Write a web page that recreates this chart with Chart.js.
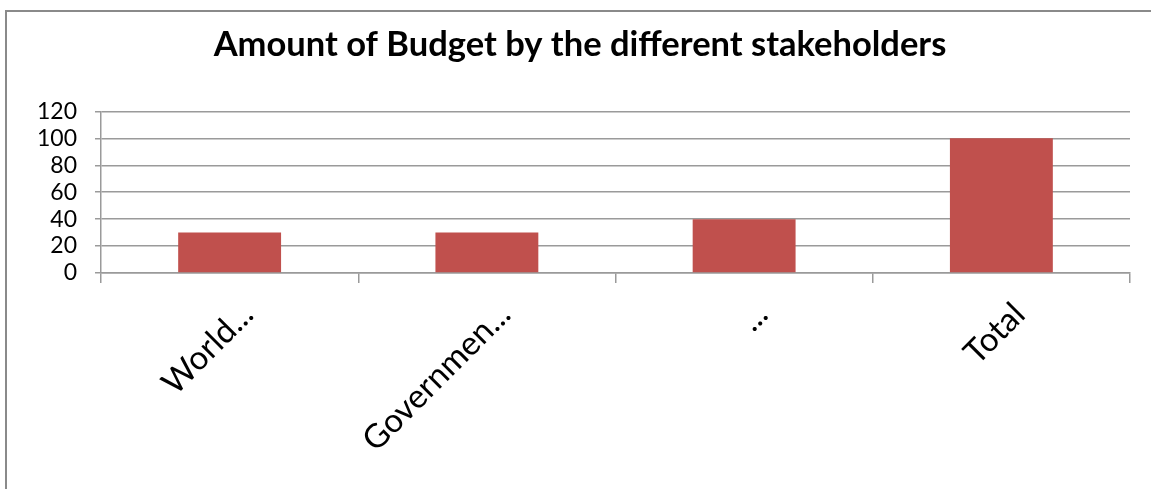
<!DOCTYPE html>
<html>
<head>
<meta charset="utf-8">
<title>Amount of Budget by the different stakeholders</title>
<script src="https://cdn.jsdelivr.net/npm/chart.js@4.4.1/dist/chart.umd.min.js"></script>
<style>
    html, body {
        margin: 0;
        padding: 0;
        background: #ffffff;
        overflow: hidden;
    }
    #frame {
        position: absolute;
        left: 5px;
        top: 10px;
        width: 1200px;
        height: 520px;
        border-left: 2px solid #8a8a8a;
        border-top: 2px solid #8a8a8a;
    }
    #chart-wrap {
        position: absolute;
        left: 0;
        top: 0;
        width: 1151px;
        height: 489px;
    }
</style>
</head>
<body>
<div id="frame"></div>
<div id="chart-wrap"><canvas id="budget-chart"></canvas></div>
<script>
    var categories = ["World...", "Governmen...", "...", "Total"];
    var budgetValues = [30, 30, 40, 100];
    var yMin = 0;
    var yMax = 120;
    var yStep = 20;

    var gridColor = "#9a9a9a";
    var barColor = "#c0504d";

    new Chart(document.getElementById("budget-chart").getContext("2d"), {
        type: "bar",
        data: {
            labels: categories,
            datasets: [{
                data: budgetValues,
                backgroundColor: barColor,
                borderWidth: 0,
                barPercentage: 0.4,
                categoryPercentage: 1
            }]
        },
        options: {
            responsive: true,
            maintainAspectRatio: false,
            animation: false,
            events: [],
            layout: {
                padding: { left: 30, right: 21, top: 0, bottom: 0 }
            },
            plugins: {
                legend: { display: false },
                tooltip: { enabled: false },
                title: {
                    display: true,
                    text: "Amount of Budget by the different stakeholders",
                    color: "#000000",
                    font: { family: "Lato", size: 34.5, weight: "bold" },
                    padding: { top: 24, bottom: 46 }
                }
            },
            scales: {
                x: {
                    afterFit: function (scale) {
                        scale.height = 216;
                    },
                    grid: {
                        display: true,
                        drawOnChartArea: false,
                        color: gridColor,
                        lineWidth: 1.5,
                        tickLength: 10,
                        offset: true
                    },
                    border: { display: true, color: gridColor, width: 1.5 },
                    ticks: {
                        autoSkip: false,
                        minRotation: 45,
                        maxRotation: 45,
                        color: "#000000",
                        padding: 12,
                        labelOffset: 18,
                        font: { family: "Lato", size: 33 }
                    }
                },
                y: {
                    min: yMin,
                    max: yMax,
                    afterFit: function (scale) {
                        scale.width = 71;
                    },
                    grid: {
                        color: gridColor,
                        lineWidth: 1.5,
                        tickLength: 6
                    },
                    border: { display: true, color: gridColor, width: 1.5 },
                    ticks: {
                        stepSize: yStep,
                        autoSkip: false,
                        color: "#000000",
                        padding: 18,
                        font: { family: "Lato", size: 23 }
                    }
                }
            }
        }
    });
</script>
</body>
</html>
